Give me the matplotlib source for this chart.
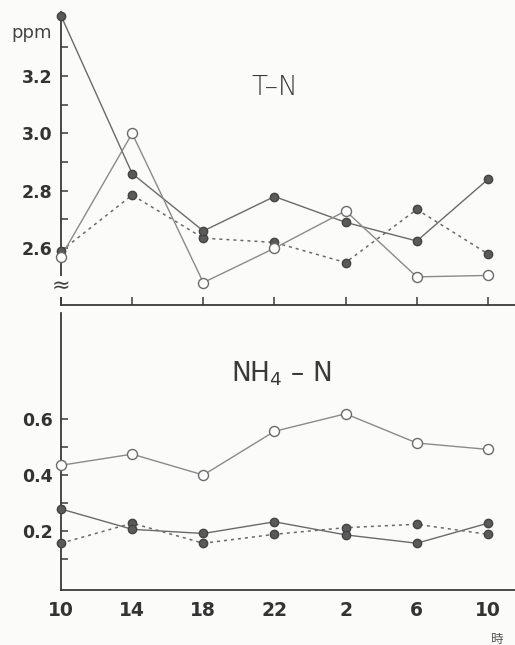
import matplotlib
matplotlib.use("Agg")
import matplotlib.pyplot as plt
from matplotlib.ticker import FixedLocator

# time of day (hours) along the x axis
hours = ["10", "14", "18", "22", "2", "6", "10"]

# T-N (ppm)
tn_solid = [3.41, 2.86, 2.66, 2.78, 2.69, 2.625, 2.84]
tn_open = [2.57, 3.00, 2.48, 2.60, 2.73, 2.50, 2.505]
tn_dotted = [2.59, 2.785, 2.635, 2.62, 2.55, 2.735, 2.58]

# NH4-N (ppm)
nh_open = [0.435, 0.475, 0.40, 0.557, 0.62, 0.515, 0.492]
nh_solid = [0.278, 0.205, 0.19, 0.232, 0.185, 0.155, 0.227]
nh_dotted = [0.155, 0.227, 0.155, 0.187, 0.211, 0.223, 0.187]

plt.rcParams["mathtext.fontset"] = "custom"
plt.rcParams["mathtext.rm"] = "DejaVu Sans"

W, H = 515, 645
bg = "#fbfbf9"
fig = plt.figure(figsize=(W / 100, H / 100), dpi=100)
fig.patch.set_facecolor(bg)

line_c = "#6a6a6a"
mark_c = "#5a5a5a"
axis_c = "#3a3a3a"
dots = (0, (2, 2.6))
xs = list(range(len(hours)))


def px_axes(left, top, right, bottom):
    return fig.add_axes([left / W, 1 - bottom / H, (right - left) / W, (bottom - top) / H])


def draw_series(ax, solid, opened, dotted):
    ax.plot(xs, dotted, color=line_c, lw=1.1, ls=dots, clip_on=False, zorder=2)
    ax.plot(xs, solid, color=line_c, lw=1.0, clip_on=False, zorder=2)
    ax.plot(xs, opened, color="#8a8a8a", lw=1.0, clip_on=False, zorder=2)
    ax.plot(xs, dotted, ls="none", marker="o", ms=6.0, mfc=mark_c, mec="#444444",
            clip_on=False, zorder=4)
    ax.plot(xs, solid, ls="none", marker="o", ms=6.0, mfc=mark_c, mec="#444444",
            clip_on=False, zorder=4)
    ax.plot(xs, opened, ls="none", marker="o", ms=7.2, mfc="white", mec="#6a6a6a",
            mew=1.0, clip_on=False, zorder=5)


def style(ax):
    ax.set_facecolor("none")
    for s in ["top", "right"]:
        ax.spines[s].set_visible(False)
    for s in ["left", "bottom"]:
        ax.spines[s].set_color(axis_c)
        ax.spines[s].set_linewidth(1.3)
    ax.set_xlim(0, 6.38)
    ax.tick_params(axis="y", which="both", direction="in", length=5, width=1.1,
                   colors=axis_c, labelsize=12.5, pad=6)
    for lab in ax.get_yticklabels():
        lab.set_fontweight("bold")
        lab.set_color("#333333")


# ---- upper panel: T-N ----
ax1 = px_axes(61, 12, 515, 305)
draw_series(ax1, tn_solid, tn_open, tn_dotted)
ax1.set_ylim(2.402, 3.423)
ax1.set_yticks([2.6, 2.8, 3.0, 3.2])
ax1.set_yticklabels(["2.6", "2.8", "3.0", "3.2"])
ax1.yaxis.set_minor_locator(FixedLocator([2.5, 2.7, 2.9, 3.1, 3.3]))
ax1.set_xticks(xs)
ax1.set_xticklabels([])
style(ax1)
ax1.tick_params(axis="x", direction="in", length=6, width=1.1, colors=axis_c)
# axis break mark
ax1.text(0, 2.468, "\u2248", ha="center", va="center", fontsize=16, color="#444444",
         bbox=dict(boxstyle="square,pad=0.02", fc=bg, ec="none"), zorder=6,
         clip_on=False)
ax1.text(3.0, 3.16, "T\u2013N", ha="center", va="center", fontsize=19,
         color="#3a3a3a", fontweight="light")
fig.text(32 / W, 1 - 33 / H, "ppm", ha="center", va="center", fontsize=13,
         color="#444444")

# ---- lower panel: NH4-N ----
ax2 = px_axes(61, 313, 515, 590)
draw_series(ax2, nh_solid, nh_open, nh_dotted)
ax2.set_ylim(-0.013, 0.982)
ax2.set_yticks([0.2, 0.4, 0.6])
ax2.set_yticklabels(["0.2", "0.4", "0.6"])
ax2.yaxis.set_minor_locator(FixedLocator([0.1, 0.3, 0.5]))
ax2.set_xticks(xs)
ax2.set_xticklabels(hours)
style(ax2)
ax2.tick_params(axis="x", length=0, labelsize=13.5, pad=8, colors="#333333")
for lab in ax2.get_xticklabels():
    lab.set_fontweight("bold")
ax2.text(3.1, 0.765, "NH$_4$ \u2013 N", ha="center", va="center", fontsize=19,
         color="#3a3a3a")
fig.text(497 / W, 1 - 639 / H, "時", ha="center", va="center", fontsize=9,
         color="#555555", family=["Noto Sans CJK JP", "DejaVu Sans"])

fig.savefig("out.png", dpi=100, facecolor=fig.get_facecolor())
